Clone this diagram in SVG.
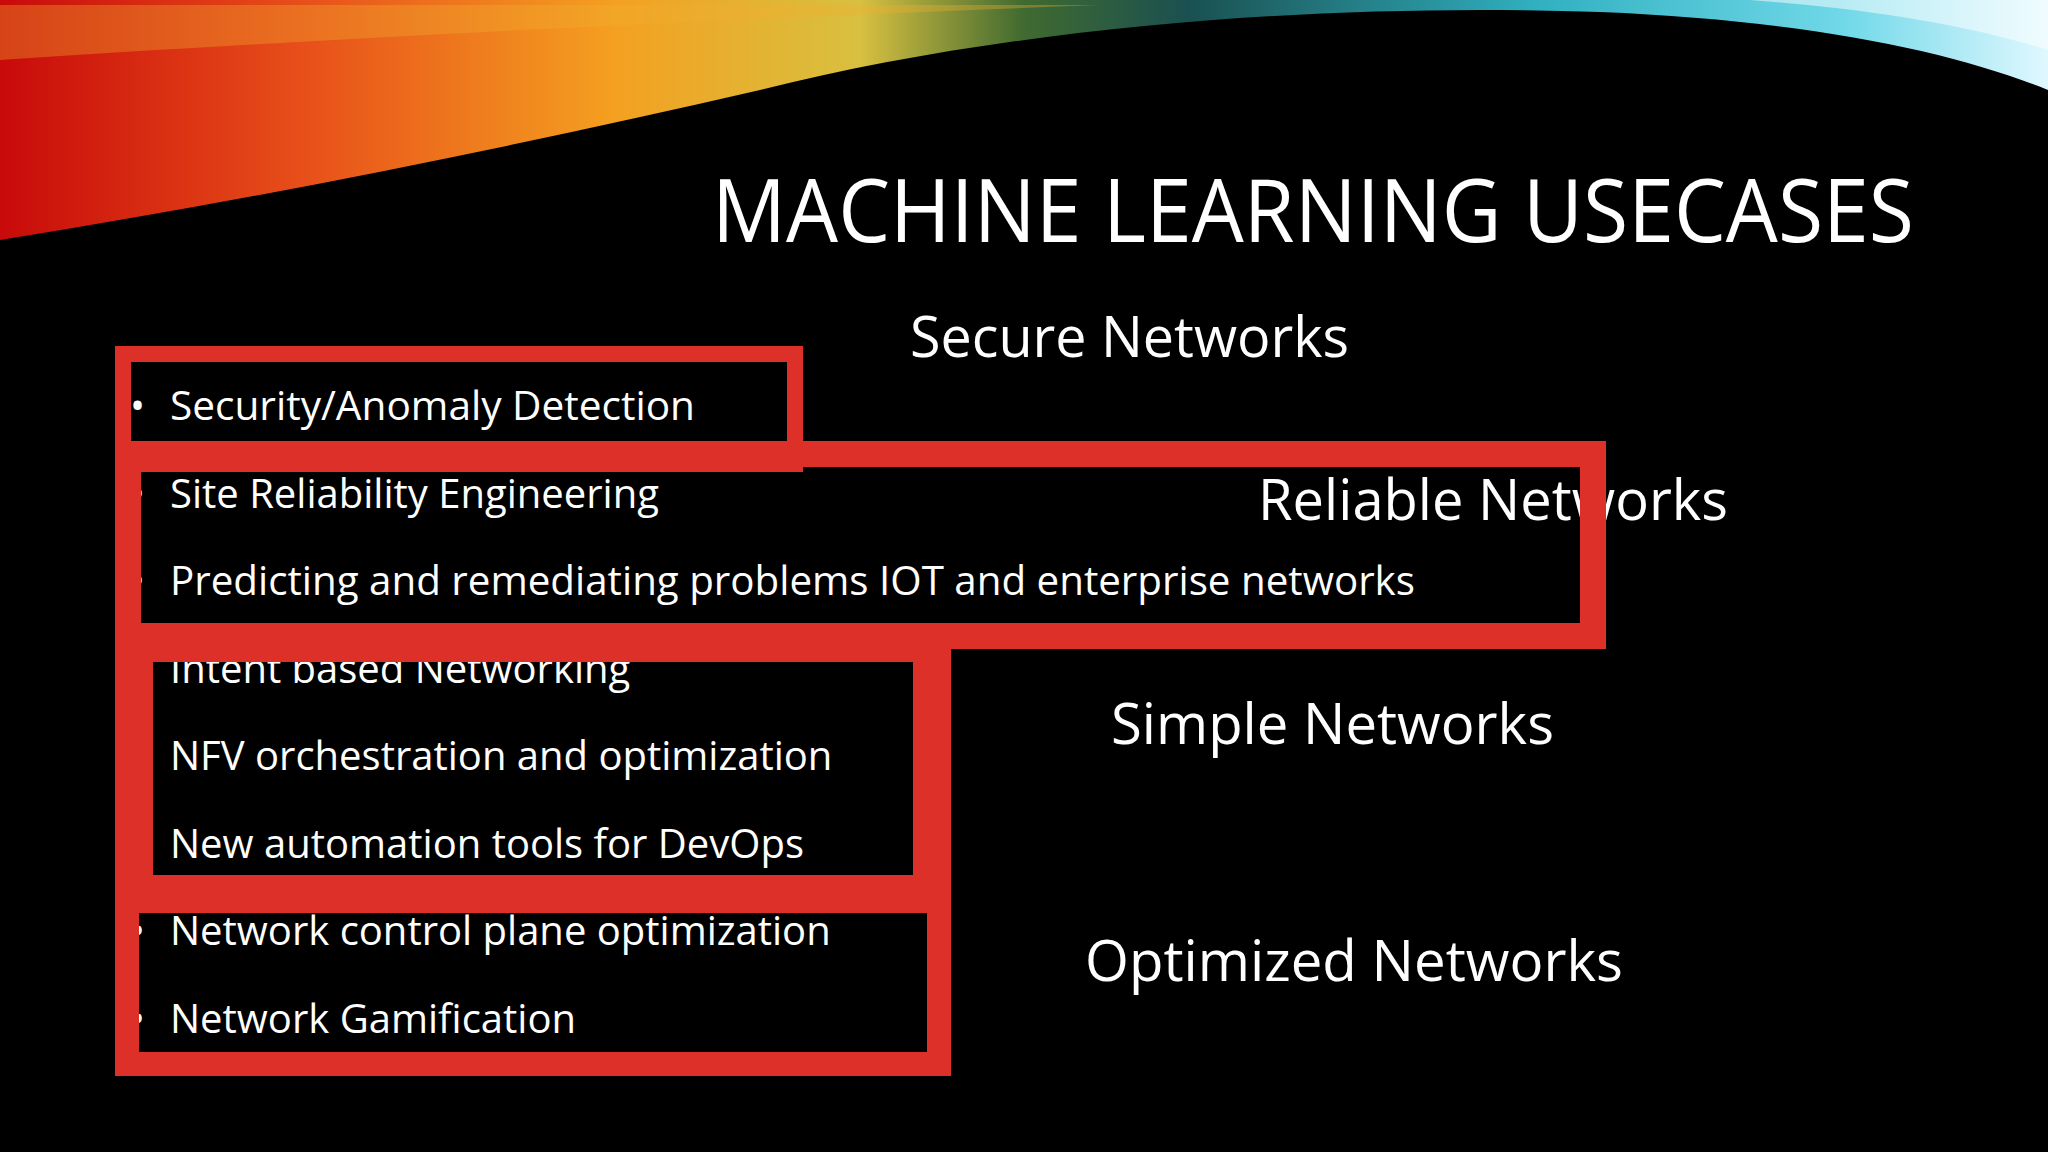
<svg xmlns="http://www.w3.org/2000/svg" width="2048" height="1152" viewBox="0 0 2048 1152">
<defs>
<linearGradient id="warm" x1="0" y1="0" x2="2048" y2="0" gradientUnits="userSpaceOnUse">
<stop offset="0" stop-color="#c80a0a"/><stop offset="0.15" stop-color="#e8501a"/><stop offset="0.3" stop-color="#f4a020"/><stop offset="0.42" stop-color="#d8c040"/><stop offset="0.5" stop-color="#406a30"/><stop offset="0.58" stop-color="#1a5050"/><stop offset="0.75" stop-color="#30b0c0"/><stop offset="0.9" stop-color="#70d8e8"/><stop offset="1" stop-color="#e0f8ff"/>
</linearGradient>
<style>
text{font-family:"Open Sans","Noto Sans","Liberation Sans",sans-serif;fill:#fff}
.b{font-size:40px}
.h{font-size:57px}
.f{fill:none;stroke:#dd3029}
</style>
</defs>
<rect width="2048" height="1152" fill="#000"/>
<g id="swoosh">
<path d="M0 0 H2048 V90 C1950 50 1800 20 1600 12 C1300 2 1000 30 760 90 C500 150 250 200 0 240 Z" fill="url(#warm)"/>
<path d="M0 60 C300 40 700 20 1100 5 L0 5 Z" fill="#f0b030" opacity="0.35"/>
<path d="M1750 0 H2048 V50 C1950 20 1850 8 1750 0 Z" fill="#fff" opacity="0.5"/>
</g>
<text id="title" x="712" y="242" font-size="88" textLength="1202" lengthAdjust="spacingAndGlyphs">MACHINE LEARNING USECASES</text>
<g id="labels">
<text class="h" x="910" y="357" textLength="439" lengthAdjust="spacingAndGlyphs">Secure Networks</text>
<text class="h" x="1258" y="520" textLength="470" lengthAdjust="spacingAndGlyphs">Reliable Networks</text>
<text class="h" x="1111" y="744" textLength="443" lengthAdjust="spacingAndGlyphs">Simple Networks</text>
<text class="h" x="1085" y="981" textLength="538" lengthAdjust="spacingAndGlyphs">Optimized Networks</text>
</g>
<g id="bullets">
<text class="b" x="130" y="420">•</text><text class="b" x="170" y="420" textLength="525" lengthAdjust="spacingAndGlyphs">Security/Anomaly Detection</text>
<text class="b" x="130" y="508">•</text><text class="b" x="170" y="508">Site Reliability Engineering</text>
<text class="b" x="130" y="595">•</text><text class="b" x="170" y="595" textLength="1245" lengthAdjust="spacingAndGlyphs">Predicting and remediating problems IOT and enterprise networks</text>
<text class="b" x="130" y="683">•</text><text class="b" x="170" y="683">Intent based Networking</text>
<text class="b" x="130" y="770">•</text><text class="b" x="170" y="770">NFV orchestration and optimization</text>
<text class="b" x="130" y="858">•</text><text class="b" x="170" y="858">New automation tools for DevOps</text>
<text class="b" x="130" y="945">•</text><text class="b" x="170" y="945">Network control plane optimization</text>
<text class="b" x="130" y="1033">•</text><text class="b" x="170" y="1033">Network Gamification</text>
</g>
<g id="boxes">
<rect class="f" x="123" y="354" width="672" height="110" stroke-width="16"/>
<rect class="f" x="128" y="454" width="1465" height="182" stroke-width="26"/>
<rect class="f" x="134" y="643" width="798" height="251" stroke-width="38"/>
<rect class="f" x="127" y="890" width="812" height="174" stroke-width="24"/>
</g>
</svg>
